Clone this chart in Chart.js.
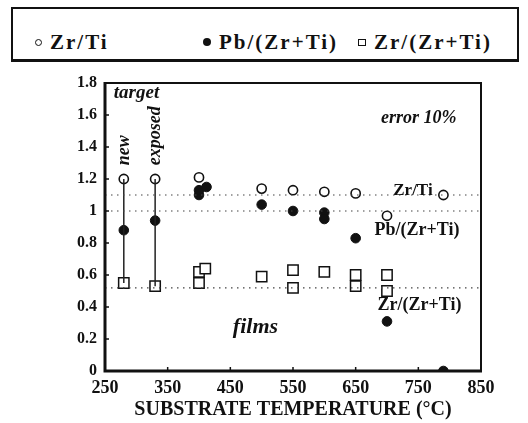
<!DOCTYPE html>
<html>
<head>
<meta charset="utf-8">
<script src="https://cdn.jsdelivr.net/npm/chart.js@4.4.1/dist/chart.umd.min.js"></script>
<style>
    html, body { margin: 0; padding: 0; background: #fff; }
    #wrap { position: relative; width: 528px; height: 423px; }
    #legend {
        position: absolute; left: 11px; top: 7px; width: 504px; height: 50px;
        border: 2px solid #111; border-bottom-width: 3px;
        font-family: 'Liberation Serif', serif; font-weight: bold; font-size: 21px;
        letter-spacing: 2px; color: #111;
    }
    .item { position: absolute; top: 21px; white-space: nowrap; }
    .sym { display: inline-block; vertical-align: middle; margin-right: 8px; position: relative; top: -2px; }
    .open { width: 5px; height: 5px; border: 1.5px solid #111; border-radius: 50%; }
    .fill { width: 8px; height: 8px; background: #111; border-radius: 50%; }
    .sq { width: 6px; height: 5px; border: 1.5px solid #111; }
    canvas { position: absolute; left: 0; top: 0; }
</style>
</head>
<body>
<div id="wrap">
    <div id="legend">
        <span class="item" style="left:22px"><span class="sym open"></span>Zr/Ti</span>
        <span class="item" style="left:190px"><span class="sym fill"></span>Pb/(Zr+Ti)</span>
        <span class="item" style="left:345px"><span class="sym sq"></span>Zr/(Zr+Ti)</span>
    </div>
    <canvas id="chart" width="528" height="423"></canvas>
</div>
<script>
// Zr/Ti (open circles)
const zrTiTemp  = [280, 330, 400, 500, 550, 600, 650, 700, 790];
const zrTiRatio = [1.20, 1.20, 1.21, 1.14, 1.13, 1.12, 1.11, 0.97, 1.10];

// Pb/(Zr+Ti) (filled circles)
const pbTemp  = [280, 330, 400, 400, 412, 500, 550, 600, 600, 650, 700, 790];
const pbRatio = [0.88, 0.94, 1.10, 1.13, 1.15, 1.04, 1.00, 0.99, 0.95, 0.83, 0.31, 0.00];

// Zr/(Zr+Ti) (open squares)
const zrZrTemp  = [280, 330, 400, 400, 410, 500, 550, 550, 600, 650, 650, 700, 700];
const zrZrRatio = [0.55, 0.53, 0.62, 0.55, 0.64, 0.59, 0.63, 0.52, 0.62, 0.60, 0.53, 0.60, 0.50];

// target values: vertical bars from Zr/(Zr+Ti) up to Zr/Ti
const targetTemp = [280, 330];
const targetLow  = [0.55, 0.53];
const targetHigh = [1.20, 1.20];

// dotted reference levels
const refLevels = [1.10, 1.00, 0.52];

const xTicks = [250, 350, 450, 550, 650, 750, 850];
const yTicks = [0, 0.2, 0.4, 0.6, 0.8, 1, 1.2, 1.4, 1.6, 1.8];

const pts = (xs, ys) => xs.map((x, i) => ({ x: x, y: ys[i] }));
const serif = "'Liberation Serif', serif";

const datasets = [];
refLevels.forEach(v => {
    datasets.push({
        type: 'line', data: [{ x: 250, y: v }, { x: 850, y: v }],
        borderColor: '#444', borderWidth: 1.2, borderDash: [1.5, 4.5],
        pointRadius: 0, fill: false
    });
});
targetTemp.forEach((t, i) => {
    datasets.push({
        type: 'line', data: [{ x: t, y: targetLow[i] }, { x: t, y: targetHigh[i] }],
        borderColor: '#222', borderWidth: 1.5, pointRadius: 0, fill: false
    });
});
datasets.push({
    label: 'Zr/(Zr+Ti)', data: pts(zrZrTemp, zrZrRatio),
    pointStyle: 'rect', pointRadius: 7.3, pointBorderWidth: 1.5,
    pointBorderColor: '#111', pointBackgroundColor: '#fff', showLine: false
});
datasets.push({
    label: 'Zr/Ti', data: pts(zrTiTemp, zrTiRatio),
    pointStyle: 'circle', pointRadius: 4.6, pointBorderWidth: 1.6,
    pointBorderColor: '#111', pointBackgroundColor: '#fff', showLine: false
});
datasets.push({
    label: 'Pb/(Zr+Ti)', data: pts(pbTemp, pbRatio),
    pointStyle: 'circle', pointRadius: 4.8, pointBorderWidth: 1,
    pointBorderColor: '#111', pointBackgroundColor: '#111', showLine: false
});

// in-plot annotations, positioned in data units
const notes = [
    { text: 'target', x: 264, y: 1.74, font: 'italic bold 19px ' + serif, rot: 0, align: 'left' },
    { text: 'new', x: 281, y: 1.38, font: 'italic bold 18px ' + serif, rot: -Math.PI / 2, align: 'center' },
    { text: 'exposed', x: 330, y: 1.47, font: 'italic bold 18px ' + serif, rot: -Math.PI / 2, align: 'center' },
    { text: 'error 10%', x: 811, y: 1.58, font: 'italic bold 18px ' + serif, rot: 0, align: 'right' },
    { text: 'Zr/Ti', x: 710, y: 1.13, font: 'bold 17px ' + serif, rot: 0, align: 'left' },
    { text: 'Pb/(Zr+Ti)', x: 680, y: 0.88, font: 'bold 18px ' + serif, rot: 0, align: 'left' },
    { text: 'Zr/(Zr+Ti)', x: 685, y: 0.41, font: 'bold 18px ' + serif, rot: 0, align: 'left' },
    { text: 'films', x: 454, y: 0.27, font: 'italic bold 22px ' + serif, rot: 0, align: 'left' }
];

const framePlugin = {
    id: 'frame',
    afterDatasetsDraw(chart) {
        const { ctx, chartArea: a, scales } = chart;
        ctx.save();
        ctx.strokeStyle = '#111';
        // frame: heavier left/bottom
        ctx.lineWidth = 2;
        ctx.beginPath();
        ctx.moveTo(a.left, a.top); ctx.lineTo(a.right, a.top); ctx.lineTo(a.right, a.bottom);
        ctx.stroke();
        ctx.lineWidth = 3;
        ctx.beginPath();
        ctx.moveTo(a.left, a.top - 1); ctx.lineTo(a.left, a.bottom); ctx.lineTo(a.right + 1, a.bottom);
        ctx.stroke();
        // inward tick marks
        ctx.lineWidth = 1.5;
        ctx.beginPath();
        xTicks.forEach(v => {
            const px = scales.x.getPixelForValue(v);
            ctx.moveTo(px, a.bottom); ctx.lineTo(px, a.bottom - 4);
        });
        yTicks.forEach(v => {
            const py = scales.y.getPixelForValue(v);
            ctx.moveTo(a.left, py); ctx.lineTo(a.left + 4, py);
        });
        ctx.stroke();
        // text notes
        ctx.fillStyle = '#111';
        ctx.textBaseline = 'middle';
        notes.forEach(n => {
            ctx.save();
            ctx.font = n.font;
            ctx.textAlign = n.align;
            ctx.translate(scales.x.getPixelForValue(n.x), scales.y.getPixelForValue(n.y));
            ctx.rotate(n.rot);
            ctx.fillText(n.text, 0, 0);
            ctx.restore();
        });
        ctx.restore();
    }
};

new Chart(document.getElementById('chart').getContext('2d'), {
    type: 'scatter',
    data: { datasets: datasets },
    options: {
        responsive: false,
        animation: false,
        layout: { padding: { top: 83, right: 47, left: 0, bottom: 0 } },
        plugins: { legend: { display: false }, tooltip: { enabled: false } },
        scales: {
            x: {
                type: 'linear', min: 250, max: 850,
                afterBuildTicks: s => { s.ticks = xTicks.map(v => ({ value: v })); },
                afterFit: s => { s.height = 52; },
                grid: { display: false, drawTicks: false },
                border: { display: false },
                ticks: { padding: 7, color: '#111', font: { family: serif, weight: 'bold', size: 18 }, maxRotation: 0 },
                title: {
                    display: true, text: 'SUBSTRATE TEMPERATURE (°C)', color: '#111',
                    font: { family: serif, weight: 'bold', size: 20 }, padding: { top: 0, bottom: 1 }
                }
            },
            y: {
                type: 'linear', min: 0, max: 1.8,
                afterBuildTicks: s => { s.ticks = yTicks.map(v => ({ value: v })); },
                afterFit: s => { s.width = 105; },
                grid: { display: false, drawTicks: false },
                border: { display: false },
                ticks: {
                    padding: 8, color: '#111', font: { family: serif, weight: 'bold', size: 16 },
                    callback: v => String(+v.toFixed(1))
                }
            }
        }
    },
    plugins: [framePlugin]
});
</script>
</body>
</html>
